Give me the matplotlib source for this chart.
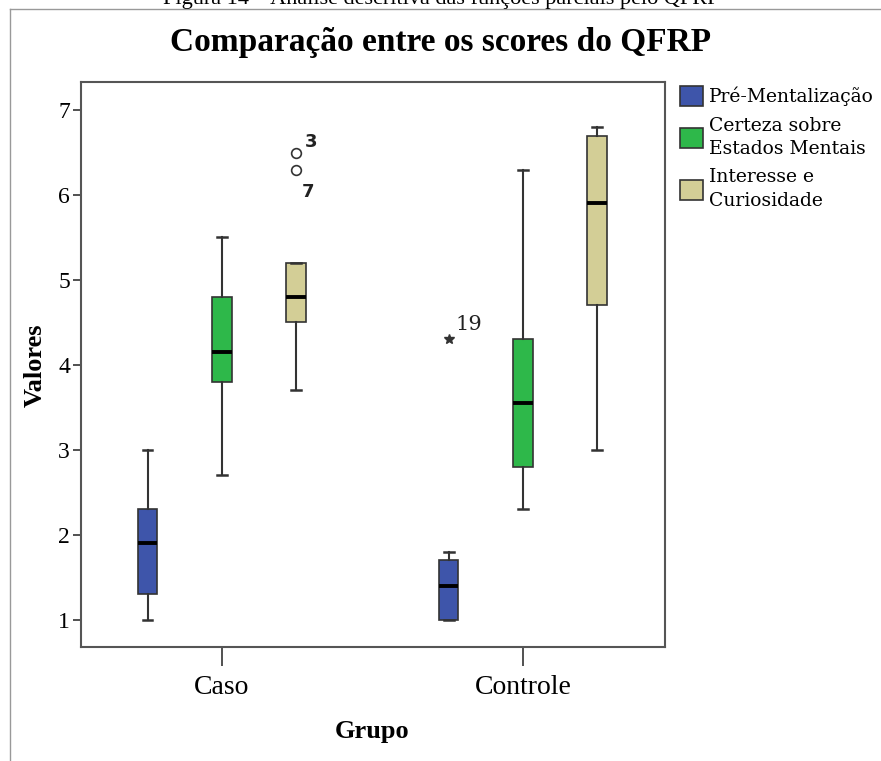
import matplotlib
matplotlib.use("Agg")
import matplotlib.pyplot as plt
from matplotlib.patches import Patch
from matplotlib.lines import Line2D

# dados
grupos = ["Caso", "Controle"]
series = ["Pré-Mentalização", "Certeza sobre\nEstados Mentais", "Interesse e\nCuriosidade"]
cores = ["#3E55AA", "#2EB84A", "#D3CE96"]

# [grupo][serie]
whislo = [[1.0, 2.7, 3.7], [1.0, 2.3, 3.0]]
q1 = [[1.3, 3.8, 4.5], [1.0, 2.8, 4.7]]
med = [[1.9, 4.15, 4.8], [1.4, 3.55, 5.9]]
q3 = [[2.3, 4.8, 5.2], [1.7, 4.3, 6.7]]
whishi = [[3.0, 5.5, 5.2], [1.8, 6.3, 6.8]]

# outliers: grupo, serie, valor, rotulo, marcador
out_grupo = [0, 0, 1]
out_serie = [2, 2, 0]
out_valor = [6.5, 6.3, 4.3]
out_rotulo = ["3", "7", "19"]
out_marca = ["o", "o", "*"]

desloc = [-0.247, 0.0, 0.247]
largura = 0.066

fig = plt.figure(figsize=(8.81, 7.61), dpi=100)
ax = fig.add_axes([81 / 881, 1 - 647 / 761, 584 / 881, 565 / 761])

serif = "Liberation Serif"
cinza = "#333333"

for g in range(len(grupos)):
    for s in range(len(series)):
        stats = [{"med": med[g][s], "q1": q1[g][s], "q3": q3[g][s],
                  "whislo": whislo[g][s], "whishi": whishi[g][s], "fliers": []}]
        ax.bxp(stats, positions=[g + desloc[s]], widths=largura, patch_artist=True,
               showfliers=False, manage_ticks=False,
               boxprops=dict(facecolor=cores[s], edgecolor=cinza, linewidth=1.2),
               medianprops=dict(color="black", linewidth=2.8, solid_capstyle="butt"),
               whiskerprops=dict(color=cinza, linewidth=1.5),
               capprops=dict(color=cinza, linewidth=1.8),
               capwidths=largura * 0.5)

for i in range(len(out_valor)):
    x = out_grupo[i] + desloc[out_serie[i]]
    if out_marca[i] == "o":
        ax.plot(x, out_valor[i], "o", mfc="white", mec="#333333", ms=7, mew=1.2)
    else:
        ax.plot(x, out_valor[i], "*", color="#333333", ms=7)

# rotulos dos outliers
ax.annotate(out_rotulo[0], (desloc[2], out_valor[0]), xytext=(6, 4), textcoords="offset points",
            fontsize=13, fontweight="bold", family="DejaVu Sans", color="#222222")
ax.annotate(out_rotulo[1], (desloc[2], out_valor[1]), xytext=(4, -20), textcoords="offset points",
            fontsize=13, fontweight="bold", family="DejaVu Sans", color="#222222")
ax.annotate(out_rotulo[2], (1 + desloc[0], out_valor[2]), xytext=(5, 7), textcoords="offset points",
            fontsize=15, family="DejaVu Serif", color="#222222")

ax.set_xlim(-0.468, 1.472)
ax.set_ylim(0.68, 7.33)
ax.set_xticks([0, 1])
ax.set_xticklabels(grupos, family=serif, fontsize=20)
ax.set_yticks(range(1, 8))
ax.set_yticklabels([str(v) for v in range(1, 8)], family=serif, fontsize=17)
ax.tick_params(axis="x", length=14, width=1.2, color=cinza, pad=6)
ax.tick_params(axis="y", length=6, width=1.2, color=cinza, pad=2)
for sp in ax.spines.values():
    sp.set_color("#555555")
    sp.set_linewidth(1.5)

ax.set_xlabel("Grupo", family=serif, fontsize=19, fontweight="bold")
ax.set_ylabel("Valores", family=serif, fontsize=19, fontweight="bold")
ax.xaxis.set_label_coords((372 - 81) / 584, -(720 - 647) / 565)
ax.yaxis.set_label_coords(-(81 - 47) / 584, (647 - 365) / 565)

fig.text(441 / 881, 1 - 43 / 761, "Comparação entre os scores do QFRP", family=serif,
         fontsize=24, fontweight="bold", ha="center", va="center")

# legenda
handles = [Patch(facecolor=c, edgecolor=cinza, linewidth=1.2) for c in cores]
leg = fig.legend(handles, series, loc="upper left", bbox_to_anchor=(680 / 881, 1 - 86 / 761),
                 frameon=False, prop={"family": "DejaVu Serif", "size": 13.5},
                 handlelength=1.25, handleheight=1.25, handletextpad=0.3, labelspacing=0.55,
                 borderaxespad=0, borderpad=0)
for t in leg.get_texts():
    t.set_linespacing(1.4)

# legenda da figura (cortada no topo) e moldura
fig.text(441 / 881, 1 - 4 / 761, "Figura 14 – Análise descritiva das funções parciais pelo QFRP",
         family=serif, fontsize=16, ha="center", va="baseline")
fig.add_artist(Line2D([10 / 881, 10 / 881], [0, 1 - 9 / 761], color="#999999", lw=1))
fig.add_artist(Line2D([10 / 881, 1], [1 - 9 / 761, 1 - 9 / 761], color="#999999", lw=1))

fig.savefig("out.png", dpi=100)
